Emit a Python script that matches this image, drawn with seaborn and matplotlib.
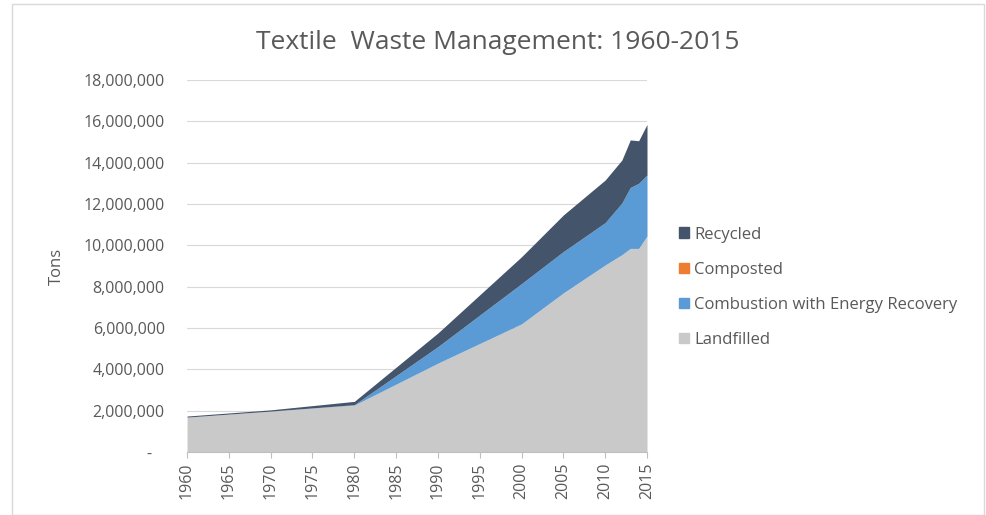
import numpy as np
import pandas as pd
import seaborn as sns
import matplotlib.pyplot as plt
from matplotlib.patches import Patch, Rectangle
from matplotlib.ticker import FuncFormatter

# tons
years = [1960, 1970, 1980, 1990, 2000, 2005, 2010, 2012, 2013, 2014, 2015]
landfilled = [1690000, 1980000, 2270000, 4300000, 6200000, 7700000, 9050000, 9550000, 9850000, 9850000, 10450000]
combustion = [0, 0, 20000, 800000, 1950000, 2000000, 2050000, 2500000, 2950000, 3150000, 2950000]
composted = [0, 0, 0, 0, 0, 0, 0, 0, 0, 0, 0]
recycled = [50000, 60000, 160000, 660000, 1300000, 1770000, 2060000, 2080000, 2300000, 2060000, 2450000]

series = ["Landfilled", "Combustion with Energy Recovery", "Composted", "Recycled"]
colors = ["#C9C9C9", "#5B9BD5", "#ED7D31", "#44546A"]

df = pd.DataFrame({"Year": years, "Landfilled": landfilled,
                   "Combustion with Energy Recovery": combustion,
                   "Composted": composted, "Recycled": recycled})

sns.set_style("white")
plt.rcParams['font.family'] = ['Open Sans', 'DejaVu Sans']
grey = "#595959"

fig = plt.figure(figsize=(9.86, 5.15), dpi=100)
ax = fig.add_axes([0.1897, 0.1223, 0.4665, 0.7224])

ax.stackplot(df["Year"], [df[s] for s in series], colors=colors, linewidth=0)

ax.set_xlim(1960, 2015)
ax.set_ylim(0, 18000000)
ax.set_xticks(range(1960, 2016, 5))
ax.set_yticks(range(0, 18000001, 2000000))
ax.yaxis.set_major_formatter(FuncFormatter(lambda v, p: "-   " if v == 0 else f"{int(v):,}"))
ax.grid(axis="y", color="#D9D9D9", linewidth=0.8)
ax.set_axisbelow(True)
for s in ["top", "right", "left"]:
    ax.spines[s].set_visible(False)
ax.spines["bottom"].set_color("#BFBFBF")
ax.tick_params(axis="x", labelrotation=90, colors=grey, labelsize=11.5, length=4, color="#BFBFBF", bottom=True)
ax.tick_params(axis="y", colors=grey, labelsize=11.5, length=0, pad=16)
ax.set_ylabel("Tons", color=grey, fontsize=12)
ax.yaxis.set_label_coords(-0.265, 0.5)

fig.text(0.505, 0.918, "Textile  Waste Management: 1960-2015", ha="center", va="center",
         fontsize=19, color=grey)

handles = [Patch(color=c, label=l) for l, c in zip(series, colors)][::-1]
fig.legend(handles=handles, loc="upper left", bbox_to_anchor=(0.682, 0.573), frameon=False,
           fontsize=12, labelcolor=grey, handlelength=0.6, handleheight=0.6,
           handletextpad=0.3, labelspacing=1.15, borderaxespad=0)

fig.patches.append(Rectangle((0.012, 0.0), 0.986, 0.993, transform=fig.transFigure,
                             fill=False, edgecolor="#D9D9D9", linewidth=1))

fig.savefig("out.png", dpi=100)
